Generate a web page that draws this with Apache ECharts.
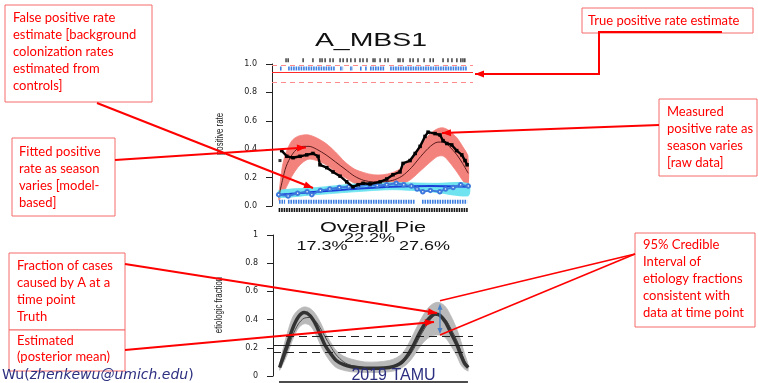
<!DOCTYPE html>
<html>
<head>
<meta charset="utf-8">
<script src="https://cdn.jsdelivr.net/npm/echarts@6/dist/echarts.min.js"></script>
<style>
html,body{margin:0;padding:0;background:#fff}
#main{width:758px;height:383px}
</style>
</head>
<body>
<div id="main"></div>
<script>
// ---- top panel: positive rate over the season (day 0..100) ----
const fitDay   = [0, 2, 4, 7, 10, 13, 16, 20, 25, 30, 35, 40, 45, 50, 55, 60, 65, 70, 75, 80, 84, 87, 90, 94, 97, 100]
const fitRate  = [0.06, 0.18, 0.28, 0.36, 0.405, 0.42, 0.42, 0.40, 0.36, 0.31, 0.26, 0.21, 0.18, 0.17, 0.17, 0.18, 0.21, 0.27, 0.35, 0.42, 0.45, 0.45, 0.42, 0.36, 0.30, 0.23]
const fitUpper = [0.07, 0.28, 0.38, 0.46, 0.49, 0.50, 0.50, 0.48, 0.44, 0.38, 0.31, 0.26, 0.235, 0.22, 0.22, 0.235, 0.27, 0.34, 0.43, 0.51, 0.545, 0.55, 0.53, 0.48, 0.42, 0.35]
const fitLower = [0.04, 0.08, 0.13, 0.21, 0.27, 0.31, 0.33, 0.32, 0.29, 0.24, 0.20, 0.16, 0.135, 0.12, 0.12, 0.13, 0.15, 0.19, 0.25, 0.31, 0.35, 0.35, 0.31, 0.24, 0.18, 0.13]

const rawDay  = [1.6, 4.3, 7.6, 11.3, 14.8, 18.1, 20.8, 21.8, 25.4, 28.7, 32.4, 35.9, 39.2, 41.9, 44.5, 48.2, 53.5, 57, 60.3, 64, 65.6, 69.3, 72, 74.6, 77.2, 78.8, 82.5, 85.1, 86.7, 88.7, 91.3, 93.9, 96.6, 98.3, 99.4]
const rawRate = [0.39, 0.35, 0.34, 0.35, 0.36, 0.37, 0.35, 0.29, 0.27, 0.24, 0.21, 0.17, 0.135, 0.15, 0.16, 0.155, 0.17, 0.19, 0.22, 0.24, 0.30, 0.32, 0.37, 0.42, 0.49, 0.52, 0.51, 0.50, 0.46, 0.44, 0.43, 0.39, 0.36, 0.32, 0.29]
const rawOutlier = [[0.7, 0.32]]

const ctrlDay  = [0, 5, 10, 15, 17.5, 22, 27, 32, 37, 42, 48, 52, 57, 62, 66, 70, 73, 76, 80, 85, 88, 92, 96, 100]
const ctrlRate = [0.08, 0.07, 0.09, 0.10, 0.08, 0.11, 0.12, 0.13, 0.135, 0.14, 0.15, 0.145, 0.15, 0.16, 0.15, 0.14, 0.12, 0.10, 0.11, 0.10, 0.12, 0.13, 0.15, 0.14]

const fprDay   = [0, 20, 40, 60, 80, 100]
const fprFit   = [0.08, 0.10, 0.12, 0.135, 0.14, 0.135]
const fprUpper = [0.11, 0.13, 0.155, 0.165, 0.16, 0.16]
const fprLower = [0.06, 0.08, 0.10, 0.115, 0.10, 0.07]

// true positive rate estimate and its interval
const tprEst = 0.945
const tprLow = 0.87
const tprHigh = 0.995

// rugs (case / control measurement days)
const caseTicksTop = [3.9, 5.0, 12.9, 18.1, 21.8, 22.9, 24.5, 27.1, 28.7, 32.4, 34.0, 36.1, 38.1, 40.3, 42.9, 44.5, 46.6, 49.8, 50.8, 53.5, 56.1, 57.7, 63.0, 64.0, 65.6, 69.3, 70.9, 73.5, 76.7, 79.9, 81.5, 86.7, 89.3, 91.4, 94.0, 96.1, 97.2, 98.2]
const ctrlSpansTop = [[0.7, 1.8], [5.0, 29.7], [32.4, 34.0], [37.7, 39.2], [42.9, 44.0], [45.6, 46.6], [48.2, 56.1], [58.8, 99.4]]
const ctrlSpansBottom = [[0.2, 3.4], [4.9, 72], [75.6, 99.4]]
const caseSpansBottom = [[0, 99.7]]
const caseSpansEtio = [[0, 99.5]]

// ---- bottom panel: etiologic fraction ----
const efDay   = [0, 2, 4, 7, 10, 13, 16, 19, 22, 24, 27, 30, 34, 38, 45, 52, 58, 62, 65, 68, 71, 74, 77, 80, 82.5, 85, 88, 91, 94, 96, 98, 100]
const efMean  = [0.06, 0.14, 0.22, 0.34, 0.42, 0.45, 0.43, 0.37, 0.28, 0.22, 0.16, 0.11, 0.08, 0.065, 0.055, 0.055, 0.06, 0.075, 0.10, 0.15, 0.22, 0.30, 0.37, 0.42, 0.44, 0.43, 0.38, 0.30, 0.22, 0.15, 0.09, 0.06]
const efTruth = [0.06, 0.11, 0.18, 0.29, 0.37, 0.41, 0.415, 0.39, 0.33, 0.28, 0.21, 0.15, 0.10, 0.075, 0.06, 0.055, 0.06, 0.07, 0.09, 0.13, 0.19, 0.27, 0.34, 0.40, 0.43, 0.43, 0.40, 0.33, 0.25, 0.18, 0.11, 0.07]
const efUpper = [0.08, 0.20, 0.30, 0.42, 0.47, 0.49, 0.48, 0.44, 0.37, 0.31, 0.24, 0.18, 0.14, 0.12, 0.10, 0.10, 0.11, 0.13, 0.16, 0.22, 0.30, 0.38, 0.45, 0.50, 0.52, 0.52, 0.49, 0.42, 0.33, 0.25, 0.16, 0.08]
const efLower = [0.04, 0.09, 0.15, 0.26, 0.34, 0.37, 0.36, 0.30, 0.21, 0.16, 0.10, 0.06, 0.04, 0.03, 0.025, 0.025, 0.03, 0.04, 0.06, 0.09, 0.14, 0.20, 0.25, 0.28, 0.29, 0.29, 0.27, 0.21, 0.14, 0.08, 0.05, 0.035]
const ciDay = 85

// overall pie: lower, mean, upper
const pieValues = [0.173, 0.222, 0.276]

const pair = (xs, ys) => xs.map((x, i) => [x, ys[i]])

function rugSeries(g, spans, yVal, color, h, dashed) {
    return {
        type: 'custom', xAxisIndex: g, yAxisIndex: g, clip: false, silent: true, z: 4,
        data: spans.map(s => Array.isArray(s) ? s : [s, s]),
        encode: {x: [0, 1]},
        renderItem: function (params, api) {
            const a = api.coord([api.value(0), yVal])
            const b = api.coord([api.value(1), yVal])
            if (dashed) {
                return {type: 'line', shape: {x1: a[0], y1: a[1], x2: b[0], y2: b[1]},
                    style: {stroke: color, lineWidth: h, lineDash: [1.6, 0.9]}}
            }
            return {type: 'rect', shape: {x: a[0] - 0.6, y: a[1] - h / 2, width: Math.max(b[0] - a[0], 0) + 1.2, height: h},
                style: {fill: color}}
        }
    }
}

// credible band drawn as one polygon (upper edge, then lower edge backwards)
function band(g, xs, lo, hi, color) {
    return {
        type: 'custom', xAxisIndex: g, yAxisIndex: g, silent: true, z: 1,
        data: xs.map((x, i) => [x, lo[i], hi[i]]),
        encode: {x: 0, y: [1, 2]},
        renderItem: function (params, api) {
            if (params.dataIndex !== 0) return
            const top = xs.map((x, i) => api.coord([x, hi[i]]))
            const bot = xs.map((x, i) => api.coord([x, lo[i]])).reverse()
            return {type: 'group', children: [
                {type: 'polyline', shape: {points: top, smooth: 0.3}, style: {stroke: color, lineWidth: 0.8, fill: null}},
                {type: 'polyline', shape: {points: bot, smooth: 0.3}, style: {stroke: color, lineWidth: 0.8, fill: null}},
                {type: 'polygon', shape: {points: top.concat(bot), smooth: 0.3}, style: {fill: color}}
            ]}
        }
    }
}

function yAxisCfg(g, fmt) {
    return {
        type: 'value', gridIndex: g, min: 0, max: 1, interval: 0.2,
        axisLine: {show: true, onZero: false, lineStyle: {color: '#222', width: 1}},
        axisTick: {show: true, length: 6, lineStyle: {color: '#222'}},
        splitLine: {show: false},
        axisLabel: {margin: 15, fontSize: 8, fontFamily: 'DejaVu Sans', color: '#222', formatter: fmt}
    }
}

const myChart = echarts.init(document.getElementById('main'))

const option = {
    animation: false,
    grid: [
        {left: 272, top: 64, width: 201, height: 142},
        {left: 273, top: 235, width: 200, height: 141}
    ],
    xAxis: [
        {type: 'value', gridIndex: 0, min: -3.5, max: 102.5, show: false},
        {type: 'value', gridIndex: 1, min: -3.5, max: 102.5, show: false}
    ],
    yAxis: [
        yAxisCfg(0, v => v.toFixed(1)),
        yAxisCfg(1, v => String(+v.toFixed(1)))
    ],
    series: [
        band(0, fitDay, fitLower, fitUpper, '#f4827c'),
        band(0, fprDay, fprLower, fprUpper, '#6fe3ef'),
        {type: 'line', xAxisIndex: 0, yAxisIndex: 0, data: pair(fitDay, fitRate), symbol: 'none', smooth: 0.3,
            lineStyle: {color: '#5a1c1c', width: 1}, z: 3,
            markLine: {silent: true, symbol: 'none', label: {show: false},
                data: [
                    {yAxis: tprEst, lineStyle: {color: '#ff2a2a', width: 1, type: 'solid'}},
                    {yAxis: tprLow, lineStyle: {color: '#ff8a8a', width: 1.2, type: [5, 4]}},
                    {yAxis: tprHigh, lineStyle: {color: '#ff8a8a', width: 1.2, type: [5, 4]}}
                ]}},
        {type: 'line', xAxisIndex: 0, yAxisIndex: 0, data: pair(rawDay, rawRate), symbol: 'rect', symbolSize: 3.5,
            itemStyle: {color: '#000'}, lineStyle: {color: '#000', width: 2.4}, z: 5},
        {type: 'scatter', xAxisIndex: 0, yAxisIndex: 0, data: rawOutlier, symbol: 'rect', symbolSize: 3,
            itemStyle: {color: '#000'}, z: 5},
        {type: 'line', xAxisIndex: 0, yAxisIndex: 0, data: pair(fprDay, fprFit), symbol: 'none', smooth: 0.4,
            lineStyle: {color: '#1c3ed8', width: 2}, z: 3},
        {type: 'line', xAxisIndex: 0, yAxisIndex: 0, data: pair(ctrlDay, ctrlRate), symbol: 'emptyCircle', symbolSize: 3.5,
            itemStyle: {color: '#3d78dc', borderWidth: 1}, lineStyle: {color: '#3d78dc', width: 2}, z: 4},
        rugSeries(0, caseTicksTop, 1.026, '#111', 4, false),
        rugSeries(0, ctrlSpansTop, 0.968, '#3d7ee0', 4, true),
        rugSeries(0, ctrlSpansBottom, 0.03, '#3d7ee0', 4, true),
        rugSeries(0, caseSpansBottom, -0.028, '#111', 4, true),

        band(1, efDay, efLower, efUpper, '#b9b9b9'),
        {type: 'line', xAxisIndex: 1, yAxisIndex: 1, data: pair(efDay, efTruth), symbol: 'none', smooth: 0.3,
            lineStyle: {color: '#4a4a4a', width: 1}, z: 3},
        {type: 'line', xAxisIndex: 1, yAxisIndex: 1, data: pair(efDay, efMean), symbol: 'none', smooth: 0.3,
            lineStyle: {color: '#333', width: 3.5}, z: 4,
            markLine: {silent: true, symbol: 'none', label: {show: false},
                data: [
                    {yAxis: pieValues[0], lineStyle: {color: '#222', width: 1, type: [8, 5]}},
                    {yAxis: pieValues[1], lineStyle: {color: '#222', width: 1.2, type: 'solid'}},
                    {yAxis: pieValues[2], lineStyle: {color: '#222', width: 1, type: [8, 5]}}
                ]}},
        rugSeries(1, caseSpansEtio, -0.043, '#111', 1.5, false)
    ]
}
myChart.setOption(option)

// ---- annotations ----
const RED = '#ff0000'
const NAVY = '#2c2f80'

function head(x1, y1, x2, y2, color, len, wid) {
    const a = Math.atan2(y2 - y1, x2 - x1)
    const bx = x2 - len * Math.cos(a), by = y2 - len * Math.sin(a)
    const px = -Math.sin(a) * wid / 2, py = Math.cos(a) * wid / 2
    return {type: 'polygon', z: 110, silent: true,
        shape: {points: [[x2, y2], [bx + px, by + py], [bx - px, by - py]]}, style: {fill: color}}
}
function seg(pts, color, w) {
    return {type: 'polyline', z: 109, silent: true, shape: {points: pts}, style: {stroke: color, lineWidth: w, fill: null}}
}
function box(x, y, w, h, lines, tx, ty, lh) {
    return [
        {type: 'rect', z: 105, shape: {x: x, y: y, width: w, height: h}, style: {fill: '#fff', stroke: '#f56a6a', lineWidth: 1}},
        {type: 'text', z: 106, x: tx, y: ty, style: {text: lines.join('\n'), font: '13px Lato', fill: RED, lineHeight: lh || 17, verticalAlign: 'top'}}
    ]
}
function wideText(txt, x, y, size, sx, color) {
    return {type: 'text', z: 106, x: x, y: y, scaleX: sx,
        style: {text: txt, font: size + 'px Arial, Liberation Sans', fill: color || '#111', align: 'center', verticalAlign: 'middle'}}
}
function vText(txt, x, y) {
    return {type: 'text', z: 106, x: x, y: y, rotation: Math.PI / 2, scaleX: 0.78,
        style: {text: txt, font: '10px Arial, Liberation Sans', fill: '#222', align: 'center', verticalAlign: 'middle'}}
}

const pct = v => (v * 100).toFixed(1) + '%'
const ciTop = myChart.convertToPixel({xAxisIndex: 1, yAxisIndex: 1}, [ciDay, efUpper[efDay.indexOf(ciDay)]])
const ciBot = myChart.convertToPixel({xAxisIndex: 1, yAxisIndex: 1}, [ciDay, efLower[efDay.indexOf(ciDay)]])

const graphics = [
    wideText('A_MBS1', 371, 41, 18, 1.58),
    wideText('Overall Pie', 373, 228, 14, 1.55),
    wideText(pct(pieValues[0]), 322, 246.5, 12, 1.5),
    wideText(pct(pieValues[1]), 369.5, 239, 12, 1.5),
    wideText(pct(pieValues[2]), 424.5, 246.5, 12, 1.5),
    vText('positive rate', 220, 134),
    vText('etiologic fraction', 219, 305),

    ...box(5, 5, 147, 97, ['False positive rate', 'estimate [background', 'colonization rates', 'estimated from', 'controls]'], 13, 9.5),
    ...box(12, 138, 103, 78, ['Fitted positive', 'rate as season', 'varies [model-', 'based]'], 19, 143.5),
    ...box(582, 8, 171, 25, ['True positive rate estimate'], 588, 12.5),
    ...box(659, 99, 98, 77, ['Measured', 'positive rate as', 'season varies', '[raw data]'], 667, 103.5),
    ...box(9, 253, 116, 77, ['Fraction of cases', 'caused by A at a', 'time point', 'Truth'], 17, 257.5),
    ...box(9, 330, 116, 41, ['Estimated', '(posterior mean)'], 17, 332.5, 16),
    ...box(635, 233, 120, 94, ['95% Credible', 'Interval of', 'etiology fractions', 'consistent with', 'data at time point'], 643, 236.5),

    seg([[97, 103], [313, 188]], RED, 2), head(97, 103, 313, 188, RED, 9, 7),
    seg([[115, 160], [306, 147.5]], RED, 2), head(115, 160, 306, 147.5, RED, 9, 7),
    seg([[722, 32], [599, 32], [599, 74], [475, 74]], RED, 2), head(599, 74, 475, 74, RED, 9, 7),
    seg([[659, 125], [442, 133]], RED, 2), head(659, 125, 442, 133, RED, 9, 7),
    seg([[125, 264], [437, 313]], RED, 2), head(125, 264, 437, 313, RED, 9, 7),
    seg([[125, 350], [434, 322]], RED, 2), head(125, 350, 434, 322, RED, 9, 7),
    seg([[635, 254], [ciTop[0], ciTop[1] - 2]], RED, 1.6),
    seg([[635, 254], [ciBot[0], ciBot[1]]], RED, 1.6),

    seg([[ciTop[0], ciTop[1] + 4], [ciBot[0], ciBot[1] - 4]], '#4a7fc4', 1.2),
    head(ciBot[0], ciBot[1], ciTop[0], ciTop[1] + 1, '#4a7fc4', 6, 5),
    head(ciTop[0], ciTop[1], ciBot[0], ciBot[1] - 1, '#4a7fc4', 6, 5),

    {type: 'text', z: 120, x: 2, y: 375, style: {
        text: '{n|Wu(}{i|zhenkewu@umich.edu}{n|)}', verticalAlign: 'middle',
        rich: {n: {font: '14px DejaVu Sans', fill: NAVY, color: NAVY}, i: {font: 'italic 14px DejaVu Sans', fill: NAVY, color: NAVY}}}},
    {type: 'text', z: 120, x: 393.5, y: 376, style: {text: '2019 TAMU', font: '16px Arial, Liberation Sans', fill: NAVY, align: 'center', verticalAlign: 'middle'}}
]
myChart.setOption({graphic: graphics})
</script>
</body>
</html>
